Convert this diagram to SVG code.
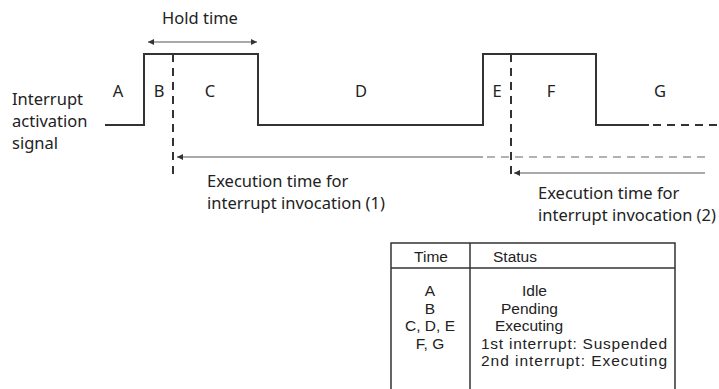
<svg xmlns="http://www.w3.org/2000/svg" width="719" height="389" viewBox="0 0 719 389">
<defs>
<style>
text{font-family:"Noto Sans","Open Sans",sans-serif;font-size:16.5px;fill:#222}
.tb{font-family:"Liberation Sans",Arial,sans-serif;font-size:15.5px}
.sig{fill:none;stroke:#333;stroke-width:2}
.dash{fill:none;stroke:#333;stroke-width:2;stroke-dasharray:8,6}
.thin{fill:none;stroke:#555;stroke-width:1.2}
.thindash{fill:none;stroke:#666;stroke-width:1.2;stroke-dasharray:8,6}
.tbl{fill:none;stroke:#333;stroke-width:1.5}
</style>
<marker id="ah" viewBox="0 0 10 10" refX="10" refY="5" markerWidth="8" markerHeight="6" orient="auto-start-reverse" markerUnits="userSpaceOnUse">
<path d="M0,0 L10,5 L0,10 z" fill="#333"/>
</marker>
</defs>
<rect width="719" height="389" fill="#fff"/>

<g id="signal">
<path class="sig" d="M105,125 H144 V54 H258 V125 H483 V54 H596 V125 H649"/>
<path class="dash" d="M653,125 H719"/>
</g>

<g id="labels">
<text x="118" y="97" text-anchor="middle">A</text>
<text x="159" y="97" text-anchor="middle">B</text>
<text x="210" y="97" text-anchor="middle">C</text>
<text x="361" y="97" text-anchor="middle">D</text>
<text x="497" y="97" text-anchor="middle">E</text>
<text x="551" y="97" text-anchor="middle">F</text>
<text x="660" y="97" text-anchor="middle">G</text>
<text x="12" y="105">Interrupt<tspan x="12" y="127">activation</tspan><tspan x="12" y="149">signal</tspan></text>
<text x="200" y="24" text-anchor="middle">Hold time</text>
<text x="207" y="187">Execution time for<tspan x="207" y="209">interrupt invocation (1)</tspan></text>
<text x="538" y="199">Execution time for<tspan x="538" y="221">interrupt invocation (2)</tspan></text>
</g>

<g id="connectors">
<line class="thin" x1="148" y1="42" x2="257" y2="42" marker-start="url(#ah)" marker-end="url(#ah)"/>
<line class="dash" x1="173" y1="54" x2="173" y2="178"/>
<line class="dash" x1="511" y1="54" x2="511" y2="178"/>
<line class="thin" x1="483" y1="157" x2="177" y2="157" marker-end="url(#ah)"/>
<line class="thindash" x1="487" y1="157" x2="707" y2="157"/>
<line class="thin" x1="705" y1="173" x2="514" y2="173" marker-end="url(#ah)"/>
</g>

<g id="table">
<path class="tbl" d="M391,389 V243 H675 V389"/>
<line class="tbl" x1="391" y1="268" x2="675" y2="268"/>
<line class="tbl" x1="470" y1="243" x2="470" y2="389"/>
<text class="tb" x="431" y="262" text-anchor="middle">Time</text>
<text class="tb" x="493" y="262">Status</text>
<text class="tb" text-anchor="middle" x="430" y="296">A</text>
<text class="tb" text-anchor="middle" x="430" y="313.5">B</text>
<text class="tb" text-anchor="middle" x="430" y="331">C, D, E</text>
<text class="tb" text-anchor="middle" x="430" y="348.5">F, G</text>
<text class="tb" x="522" y="296">Idle</text>
<text class="tb" x="501" y="313.5">Pending</text>
<text class="tb" x="495" y="331">Executing</text>
<text class="tb" x="481" y="348.5" textLength="186" lengthAdjust="spacing">1st interrupt: Suspended</text>
<text class="tb" x="481" y="366" textLength="186" lengthAdjust="spacing">2nd interrupt: Executing</text>
</g>
</svg>
